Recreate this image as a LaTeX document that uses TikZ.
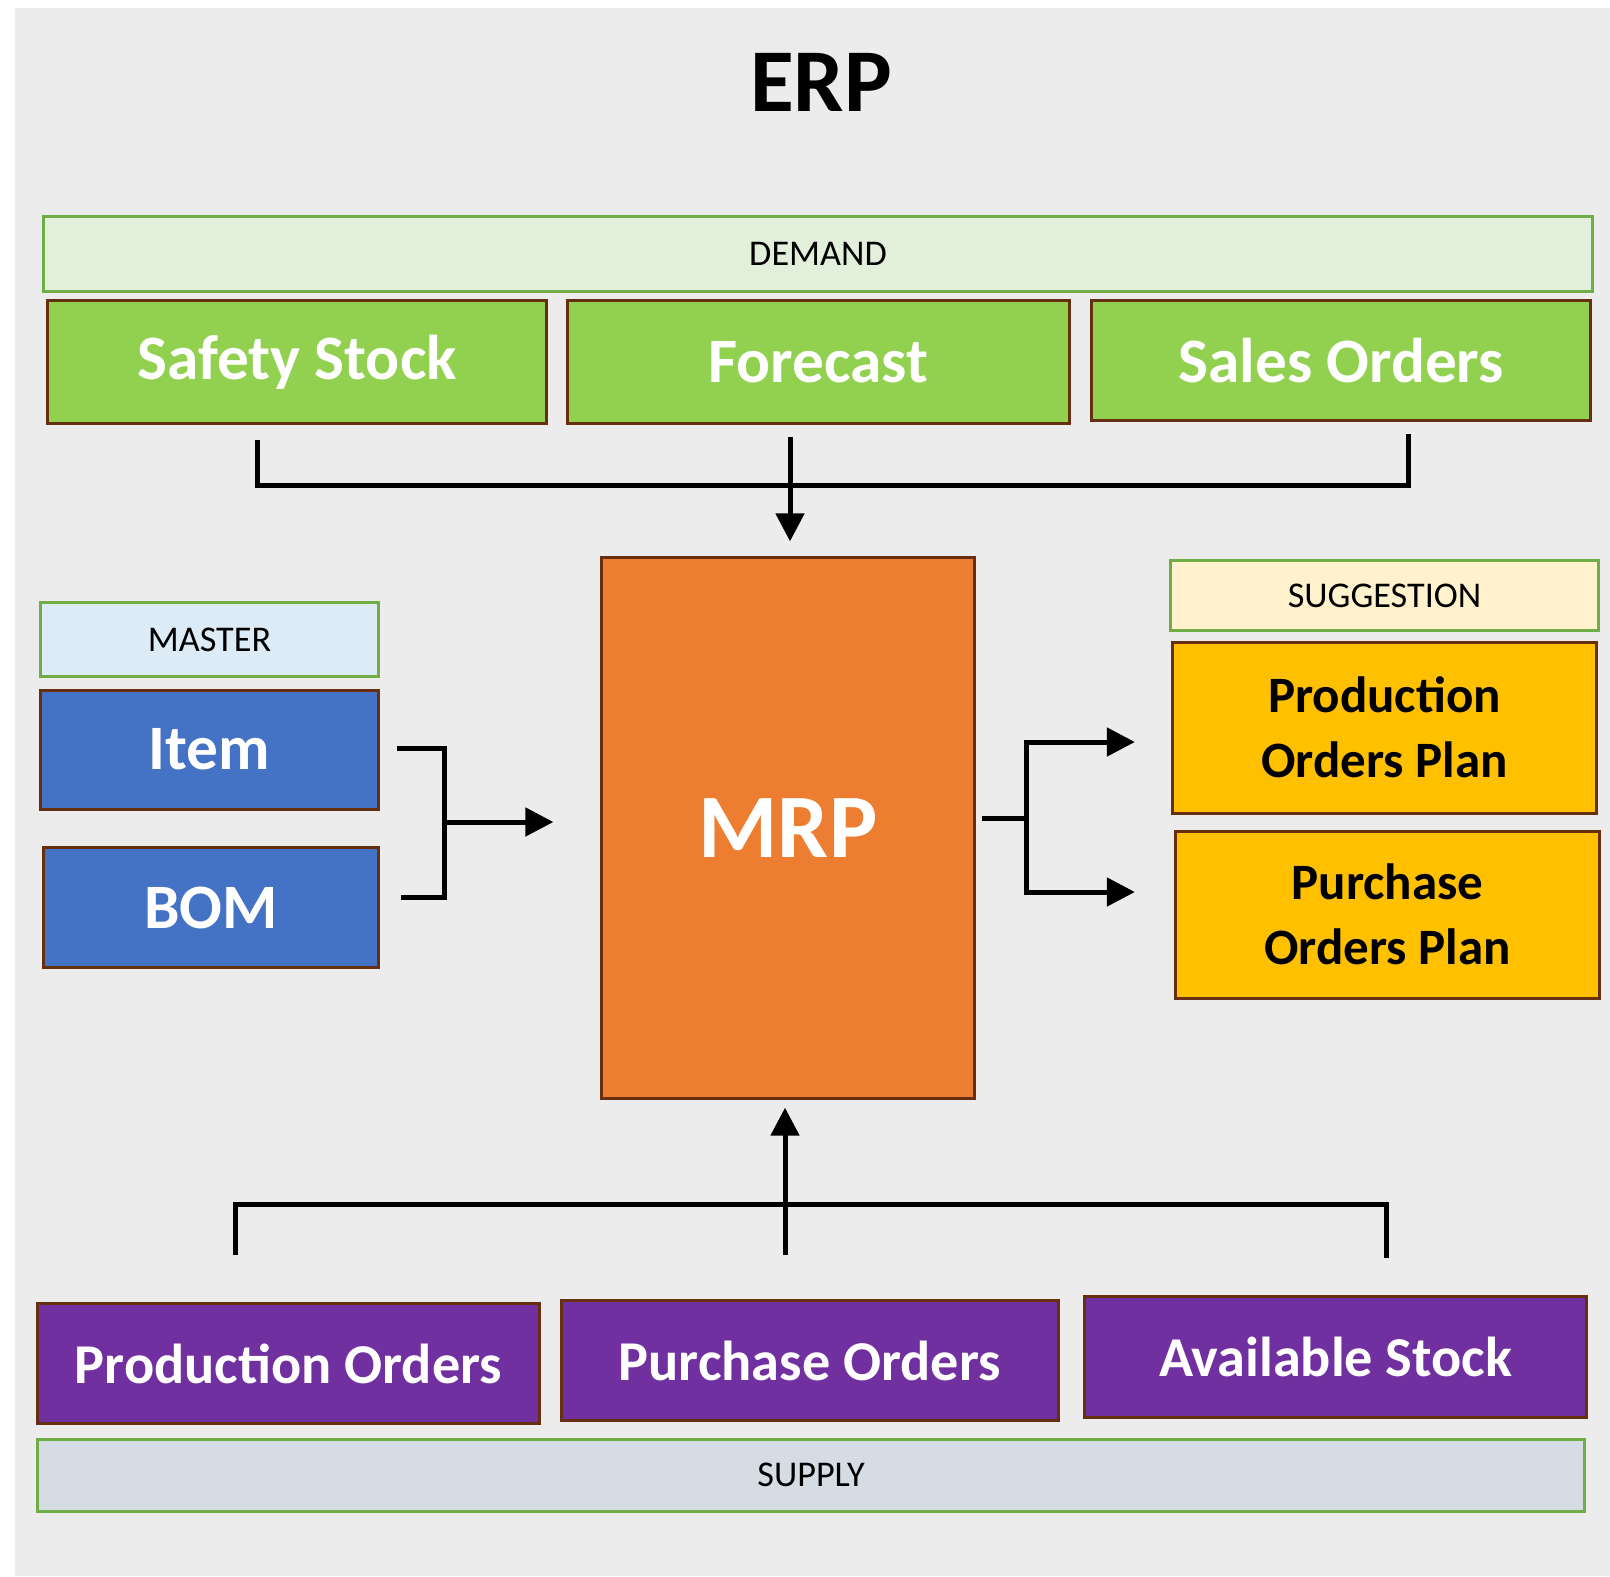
\documentclass[tikz,border=0pt]{standalone}
\usepackage{fontspec}
\setmainfont{Carlito}
\usepackage{xcolor}
\usepackage{tikz}
\usetikzlibrary{positioning,arrows.meta}
\definecolor{c_bg}{HTML}{ECECEC}
\definecolor{c_edge}{HTML}{663010}
\definecolor{c_frame}{HTML}{70AD47}
\definecolor{c_demand}{HTML}{E2EFDA}
\definecolor{c_green}{HTML}{92D050}
\definecolor{c_master}{HTML}{DDEBF7}
\definecolor{c_blue}{HTML}{4472C4}
\definecolor{c_mrp}{HTML}{ED7D31}
\definecolor{c_sugg}{HTML}{FFF2CC}
\definecolor{c_gold}{HTML}{FFC000}
\definecolor{c_purple}{HTML}{7030A0}
\definecolor{c_supply}{HTML}{D6DCE4}
\tikzset{c-band/.style={rectangle, draw=c_frame, line width=0.03cm, inner sep=0pt, text centered, font=\fontsize{10.3}{12}\selectfont},
c-block/.style={rectangle, draw=c_edge, line width=0.03cm, inner sep=0pt, text centered, align=center},
c-line/.style={line width=0.05cm},
arrow/.style={line width=0.05cm, -{Triangle[length=0.28cm, width=0.28cm]}}}
\begin{document}
\begin{tikzpicture}[x=0.01cm, y=-0.01cm]
\useasboundingbox (0,0) rectangle (1610,1576);
\fill[c_bg] (15,8) rectangle (1610,1576);
\node (erp) at (821,82) {\fontsize{25.5}{28}\selectfont\bfseries ERP};
% demand side
\node (demand) [c-band, fill=c_demand, minimum width=15.48cm, minimum height=0.74cm] at (818,254) {DEMAND};
\node (ss) [c-block, fill=c_green, text=white, minimum width=4.98cm, minimum height=1.22cm, font=\fontsize{18}{20}\selectfont\bfseries] at (297,362) {Safety Stock};
\node (fc) [c-block, fill=c_green, text=white, minimum width=5.02cm, minimum height=1.22cm, font=\fontsize{18}{20}\selectfont\bfseries, right=0.18cm of ss] {Forecast};
\node (so) [c-block, fill=c_green, text=white, minimum width=4.99cm, minimum height=1.19cm, font=\fontsize{18}{20}\selectfont\bfseries, right=0.19cm of fc, yshift=0.015cm] {Sales Orders};
% mrp
\node (mrp) [c-block, fill=c_mrp, text=white, minimum width=3.72cm, minimum height=5.40cm, font=\fontsize{25.8}{28}\selectfont\bfseries] at (788,828) {MRP};
% master
\node (master) [c-band, fill=c_master, minimum width=3.37cm, minimum height=0.73cm] at (209.5,639.5) {MASTER};
\node (item) [c-block, fill=c_blue, text=white, minimum width=3.37cm, minimum height=1.19cm, font=\fontsize{18}{20}\selectfont\bfseries, below=0.11cm of master] {Item};
\node (bom) [c-block, fill=c_blue, text=white, minimum width=3.34cm, minimum height=1.19cm, font=\fontsize{18}{20}\selectfont\bfseries] at (211,907.5) {BOM};
% suggestion
\node (sugg) [c-band, fill=c_sugg, minimum width=4.27cm, minimum height=0.69cm] at (1384.5,595.5) {SUGGESTION};
\node (pop) [c-block, fill=c_gold, minimum width=4.24cm, minimum height=1.71cm, font=\fontsize{14.5}{18.5}\selectfont\bfseries, below=0.09cm of sugg] {Production\\Orders Plan};
\node (pup) [c-block, fill=c_gold, minimum width=4.24cm, minimum height=1.67cm, font=\fontsize{14.5}{18.5}\selectfont\bfseries, below=0.15cm of pop, xshift=0.03cm] {Purchase\\Orders Plan};
% supply side
\node (pro) [c-block, fill=c_purple, text=white, minimum width=5.01cm, minimum height=1.19cm, font=\fontsize{16}{18}\selectfont\bfseries] at (288.5,1363.5) {Production Orders};
\node (pur) [c-block, fill=c_purple, text=white, minimum width=4.97cm, minimum height=1.19cm, font=\fontsize{16}{18}\selectfont\bfseries, right=0.19cm of pro, yshift=0.03cm] {Purchase Orders};
\node (avs) [c-block, fill=c_purple, text=white, minimum width=5.02cm, minimum height=1.20cm, font=\fontsize{16}{18}\selectfont\bfseries, right=0.23cm of pur, yshift=0.035cm] {Available Stock};
\node (supply) [c-band, fill=c_supply, minimum width=15.46cm, minimum height=0.72cm] at (811,1475) {SUPPLY};
% connectors
\coordinate (d1) at (257,440);
\coordinate (d2) at (790,437);
\coordinate (d3) at (1408,434);
\coordinate (dj) at (790,485);
\draw [c-line] (d1) |- (dj) -| (d3);
\draw [arrow] (d2) -- ([yshift=0.15cm]mrp.north -| d2);
\coordinate (li) at (397,748);
\coordinate (lb) at (401,897);
\coordinate (lj) at (444,822);
\draw [c-line] (li) -| (lj) |- (lb);
\draw [arrow] (lj) -- ([xshift=-0.47cm]mrp.west |- lj);
\coordinate (rj) at (1026,818);
\coordinate (r1) at (1026,742);
\coordinate (r2) at (1026,892);
\draw [c-line] ([xshift=0.06cm]mrp.east |- rj) -- (rj);
\draw [arrow] (rj) -- (r1) -- ([xshift=-0.36cm]pop.west |- r1);
\draw [arrow] (rj) -- (r2) -- ([xshift=-0.39cm]pup.west |- r2);
\coordinate (s1) at (235,1255);
\coordinate (s2) at (785,1255);
\coordinate (s3) at (1386,1258);
\coordinate (sj) at (785,1204);
\draw [c-line] (s1) |- (sj) -| (s3);
\draw [arrow] (s2) -- ([yshift=-0.08cm]mrp.south -| s2);
\end{tikzpicture}
\end{document}
